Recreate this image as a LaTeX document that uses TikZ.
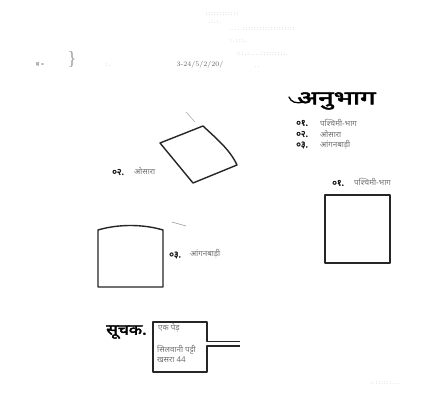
\documentclass[tikz,border=0pt]{standalone}
\usepackage{fontspec}
\newfontfamily\dev[Script=Devanagari]{Noto Sans}
\newfontfamily\devb[Script=Devanagari,FakeBold=2.5]{Noto Sans}
\begin{document}
\begin{tikzpicture}[x=1pt,y=-1pt,
  shapeline/.style={draw=black!85,line width=1.4pt,line join=round},
  faint/.style={text=black!35,font=\dev\fontsize{4.5}{5}\selectfont,inner sep=0pt},
  numlbl/.style={font=\devb\fontsize{9}{9}\selectfont,inner sep=0pt,text=black!90},
  handtxt/.style={font=\dev\fontsize{8}{8}\selectfont,inner sep=0pt,text=black!55}]
\useasboundingbox (0,0) rectangle (431,403);
\fill[white] (0,0) rectangle (431,403);
% header (faint)
\node[faint] (h1) at (222,14) {: : : : : : : : : : : :};
\node[faint] (h2) at (215,22) {. : . : .};
\node[faint] (h3) at (262,29) {. . . . . : : : : : : : : : : : : : : : : : : :};
\node[faint] (h4) at (238,41) {: . : : : .};
\node[faint] (h5) at (262,54) {: : : . : . . . . : : : : : : : : : .};
\node[faint,text=black!55,font=\dev\fontsize{6}{6}\selectfont] (h6) at (40,65) {ब =};
\node[font=\fontsize{16}{16}\selectfont,text=black!50,inner sep=0pt] (br) at (72,60) {\}};
\node[faint] (h7) at (108,65) {: .};
\node[font=\fontsize{7}{7}\selectfont,text=black!60,inner sep=0pt] (ref) at (200,65) {3-24/5/2/20/};
\node[faint] (h8) at (257,67) {. .};
% legend
\node[font=\devb\fontsize{19}{19}\selectfont,inner sep=0pt,anchor=west,xscale=1.45] (anu) at (297,101) {अनुभाग};
\draw[line width=1.3pt,line cap=round] (289,97) .. controls (291,102) and (296,104) .. (303,102);
\node[numlbl,anchor=west] (l1) at (296,123) {०१.};
\node[handtxt,anchor=west] (t1) at (320,123) {पश्चिमी-भाग};
\node[numlbl,anchor=west] (l2) at (296,134) {०२.};
\node[handtxt,anchor=west] (t2) at (320,134) {ओसारा};
\node[numlbl,anchor=west] (l3) at (296,145) {०३.};
\node[handtxt,anchor=west] (t3) at (320,145) {आंगनबाड़ी};
% shape 02
\coordinate (q1) at (160,143);
\coordinate (q2) at (203,126);
\coordinate (q3) at (237,165);
\coordinate (q4) at (193,183);
\draw[shapeline] (q1) -- (q2) .. controls (218,140) and (230,150) .. (q3) -- (q4) -- cycle;
\draw[black!35,line width=0.5pt] (186,112) -- (195,122);
\node[numlbl,anchor=west] (n2) at (112,172) {०२.};
\node[handtxt,anchor=west] (s2) at (134,171) {ओसारा};
% shape 03
\coordinate (r1) at (98,287);
\coordinate (r2) at (98,230);
\coordinate (r3) at (163,230);
\coordinate (r4) at (163,287);
\draw[shapeline] (r1) -- (r2) .. controls (118,224) and (143,224) .. (r3) -- (r4) -- cycle;
\draw[black!40,line width=0.6pt] (172,222) -- (186,226);
\node[numlbl,anchor=west] (n3) at (169,255) {०३.};
\node[handtxt,anchor=west] (s3) at (190,254) {आंगनबाड़ी};
% shape 01
\node[shapeline,minimum width=65pt,minimum height=68pt,inner sep=0pt] (b1) at (357.5,229) {};
\node[numlbl,anchor=west] (n1) at (332,183) {०१.};
\node[handtxt,anchor=west] (s1) at (354,182) {पश्चिमी-भाग};
% key
\node[font=\devb\fontsize{15}{15}\selectfont,inner sep=0pt,anchor=west,xscale=1.15] (sk) at (106,332) {सूचक.};
\coordinate (k1) at (153,322);
\coordinate (k2) at (207,322);
\coordinate (k3) at (207,341.5);
\coordinate (k4) at (240,341.5);
\coordinate (k5) at (240,346);
\coordinate (k6) at (207,346);
\coordinate (k7) at (207,372);
\coordinate (k8) at (153,372);
\draw[black!85,line width=1.1pt,line join=round] (k4) -- (k3) -- (k2) -- (k1) -- (k8) -- (k7) -- (k6) -- (k5);
\node[handtxt,anchor=west] (kt1) at (158,328) {एक पेड़};
\node[handtxt,anchor=west] (kt2) at (157,350) {सिलवानी पट्टी};
\node[handtxt,anchor=west] (kt3) at (157,360) {खसरा 44};
% footer faint
\node[faint] (f1) at (385,383) {: . : : : : : : . . .};
\end{tikzpicture}
\end{document}
